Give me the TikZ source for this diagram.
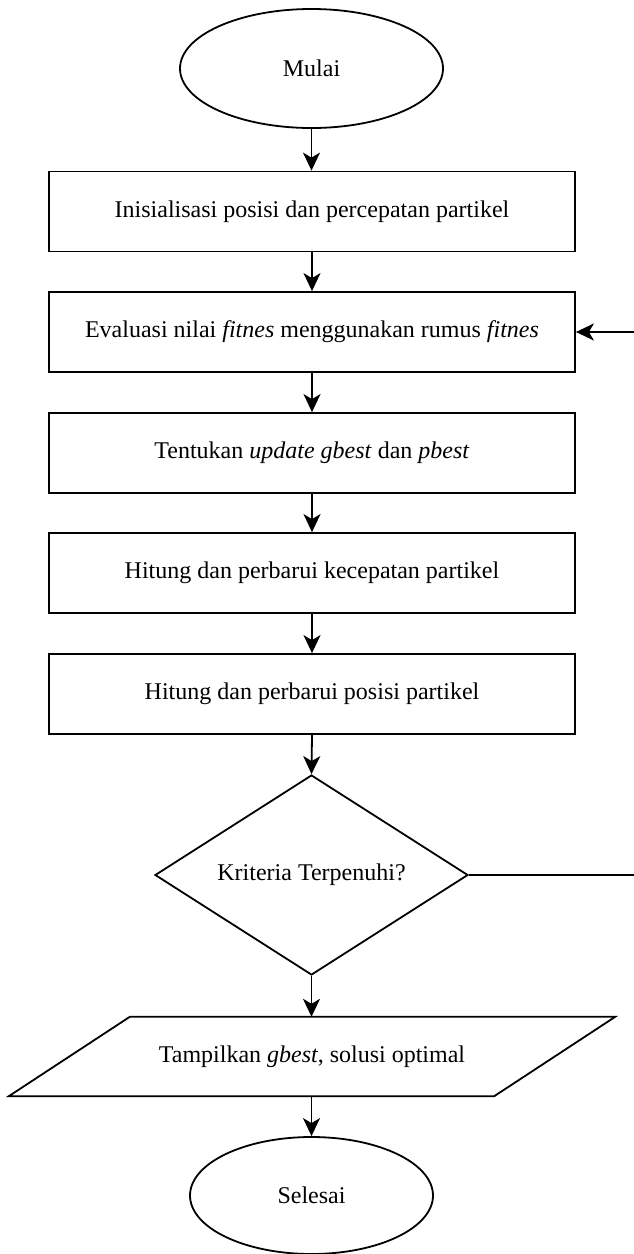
\documentclass[tikz,border=0pt]{standalone}
\usepackage{fontspec}
\setmainfont{Liberation Serif}
\usetikzlibrary{shapes.geometric,arrows.meta,calc}

\begin{document}
\begin{tikzpicture}[x=1pt,y=-1pt,
  every node/.style={font=\fontsize{24}{28}\selectfont},
  line/.style={line width=1.8pt},
  flow/.style={line, -{Stealth[length=18pt,width=17pt,inset=5pt]}},
  terminal/.style={ellipse, draw, line width=1.8pt, inner sep=0pt},
  process/.style={rectangle, draw, line width=1.8pt, minimum width=526pt,
                  minimum height=80pt, inner sep=0pt},
  decision/.style={diamond, draw, line width=1.8pt, aspect=1.565,
                   minimum width=313pt, minimum height=200pt, inner sep=0pt},
]
\useasboundingbox (0,0) rectangle (634,1254);
\clip (0,0) rectangle (634,1254);

% start / end
\node[terminal, minimum width=263pt, minimum height=119pt] (start) at (311.5,68.5) {Mulai};

% process steps
\node[process] (init)   at (312,211.5) {Inisialisasi posisi dan percepatan partikel};
\node[process] (eval)   at (312,332)   {Evaluasi nilai \textit{fitnes} menggunakan rumus \textit{fitnes}};
\node[process] (best)   at (312,453)   {Tentukan \textit{update gbest} dan \textit{pbest}};
\node[process] (vel)    at (312,573)   {Hitung dan perbarui kecepatan partikel};
\node[process] (pos)    at (312,694)   {Hitung dan perbarui posisi partikel};

% stopping criterion
\node[decision] (crit) at (311.5,875) {Kriteria Terpenuhi?};

% output (parallelogram drawn around the text node)
\node[minimum width=485pt, minimum height=79pt, inner sep=0pt] (out) at (312,1056.5)
  {Tampilkan \textit{gbest}, solusi optimal};
\draw[line] ($(out.north west)+(60.5,0)$) -- ($(out.north east)+(60.5,0)$)
  -- ($(out.south east)+(-60.5,0)$) -- ($(out.south west)+(-60.5,0)$) -- cycle;

\node[terminal, minimum width=243pt, minimum height=117pt] (stop) at (311.5,1195.5) {Selesai};

% main flow
\draw[flow] (start) -- (start.south |- init.north);
\draw[flow] (init) -- (eval);
\draw[flow] (eval) -- (best);
\draw[flow] (best) -- (vel);
\draw[flow] (vel) -- (pos);
\draw[flow] (pos.south) -- (crit.north);
\draw[flow] (crit.south) -- (crit.south |- out.north);
\draw[flow] (crit.south |- out.south) -- (crit.south |- stop.north);

% loop back when the criterion is not met
\coordinate (loop) at (660,875);
\draw[flow] (crit.east) -- (crit.east -| loop) |- (eval.east);
\end{tikzpicture}
\end{document}
